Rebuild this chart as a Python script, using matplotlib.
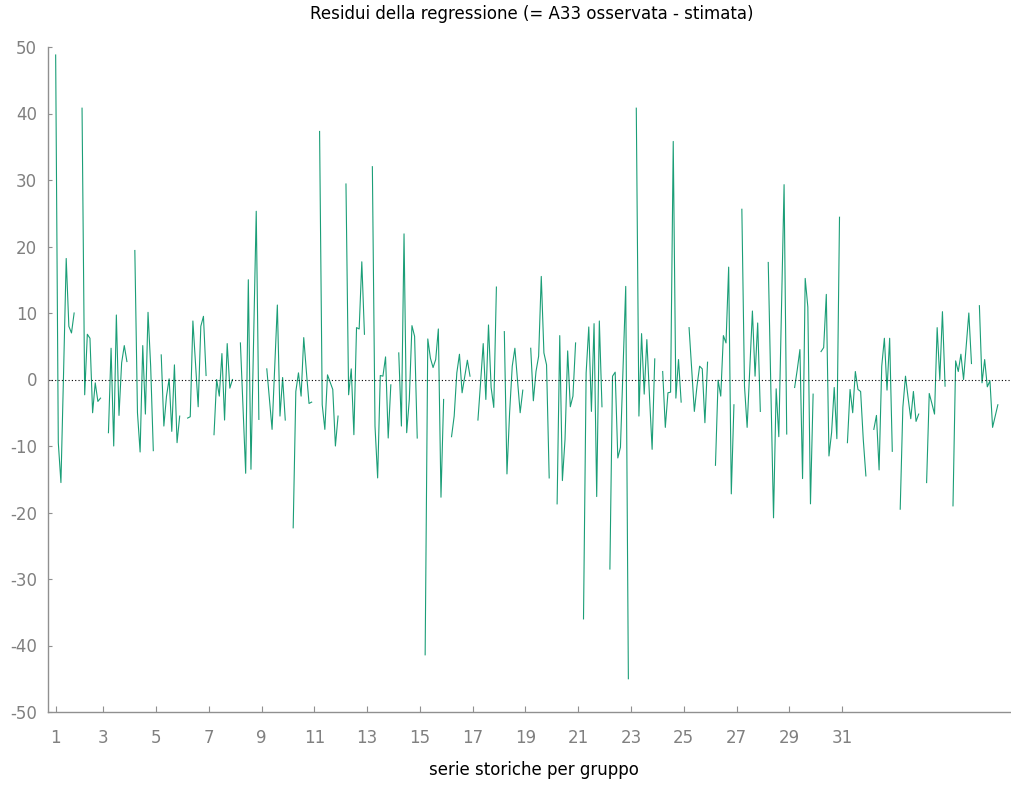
import numpy as np
import matplotlib
matplotlib.use("Agg")
import matplotlib.pyplot as plt

plt.rcParams["axes.unicode_minus"] = False

resid_g01_09 = [
    48.8, -9.5, -15.5, 1.0, 18.2, 8.0, 7.0, 10.0,
    40.8, -2.3, 6.8, 6.2, -5.0, -0.5, -3.3, -2.8,
    -8.0, 4.7, -10.0, 9.7, -5.4, 2.5, 5.1, 2.7,
    19.4, -5.0, -10.9, 5.1, -5.2, 10.1, 2.0, -10.7,
    3.7, -7.0, -2.5, 0.1, -7.8, 2.2, -9.5, -5.5,
    -5.8, -5.6, 8.8, 2.4, -4.1, 8.0, 9.5, 0.6,
    -8.3, 0.0, -2.5, 3.9, -6.1, 5.4, -1.3, 0.0,
    5.5, -4.5, -14.1, 15.0, -13.5, 5.5, 25.3, -6.0,
    1.6, -3.0, -7.5, 2.0, 11.2, -5.5, 0.3, -6.1,
]
resid_g10_18 = [
    -22.3, -1.8, 1.0, -2.5, 6.3, 1.2, -3.6, -3.4,
    37.3, -3.8, -7.5, 0.7, -0.4, -1.5, -10.0, -5.5,
    29.4, -2.3, 1.6, -8.3, 7.8, 7.6, 17.7, 6.8,
    32.0, -7.0, -14.8, 0.6, 0.5, 3.4, -8.8, -0.8,
    4.0, -7.0, 21.9, -8.0, -3.0, 8.1, 6.5, -8.8,
    -41.4, 6.1, 3.2, 1.8, 3.0, 7.6, -17.7, -3.0,
    -8.6, -5.5, 1.0, 3.8, -2.0, 0.5, 2.9, 0.5,
    -6.1, -0.5, 5.4, -3.0, 8.2, -1.2, -4.2, 13.9,
    7.2, -14.2, -5.0, 2.0, 4.7, -0.2, -5.0, -1.6,
]
resid_g19_27 = [
    4.7, -3.2, 1.2, 3.5, 15.5, 4.0, 2.2, -14.8,
    -18.7, 6.6, -15.2, -9.0, 4.3, -4.1, -2.5, 5.5,
    -36.0, 1.0, 7.9, -4.8, 8.4, -17.6, 8.8, -4.1,
    -28.5, 0.5, 1.1, -11.8, -10.2, 2.0, 14.0, -45.0,
    40.8, -5.5, 6.9, -2.2, 6.0, -2.5, -10.5, 3.1,
    1.2, -7.2, -2.0, -1.9, 35.8, -2.8, 3.0, -3.4,
    7.8, 1.5, -4.8, -1.0, 2.0, 1.6, -6.5, 2.6,
    -12.9, -0.1, -2.5, 6.6, 5.5, 16.9, -17.2, -3.8,
    25.6, -1.0, -7.2, 1.5, 10.3, 0.5, 8.5, -4.8,
]
resid_g28_36 = [
    17.6, -1.5, -20.8, -1.4, -8.6, 10.3, 29.3, -8.2,
    -1.2, 1.5, 4.5, -14.9, 15.2, 10.9, -18.7, -2.2,
    4.2, 4.8, 12.8, -11.5, -8.0, -1.2, -8.9, 24.4,
    -9.5, -1.5, -5.0, 1.2, -1.5, -1.8, -9.0, -14.5,
    -7.5, -5.4, -13.6, 2.0, 6.2, -1.6, 6.2, -10.8,
    -19.5, -4.2, 0.5, -2.8, -5.9, -1.8, -6.3, -5.2,
    -15.5, -2.1, -3.6, -5.2, 7.8, 0.0, 10.2, -1.0,
    -19.0, 2.8, 1.2, 3.8, 0.0, 5.0, 10.0, 2.4,
    11.1, -0.5, 3.0, -1.1, -0.2, -7.2, -5.5, -3.8,
]

obs_per_group = 8
period = 10          # each unit spans 10 periods, first 2 missing
tick_labels = [str(k) for k in range(1, 32, 2)]

resid = np.array(resid_g01_09 + resid_g10_18 + resid_g19_27 + resid_g28_36)
n_groups = len(resid) // obs_per_group

# build x index with NaN breaks between groups
xs, ys = [], []
for g in range(n_groups):
    for j in range(obs_per_group):
        xs.append(g * period + j)
        ys.append(resid[g * obs_per_group + j])
    xs.append(g * period + obs_per_group)
    ys.append(np.nan)
xs = np.array(xs, dtype=float)
ys = np.array(ys, dtype=float)

tick_pos = [0] + [period * (int(k) - 1) - 2 for k in tick_labels[1:]]

grey = "#808080"
fig = plt.figure(figsize=(10.12, 7.85), dpi=100)
ax = fig.add_axes([48 / 1012, 1 - 712 / 785, 962 / 1012, 665 / 785])

ax.plot(xs, ys, color="#1b9e77", lw=0.8)
ax.axhline(0, color="black", lw=0.8, ls=(0, (1, 2)))

ax.set_xlim(-2.9, 361.6)
ax.set_ylim(-50, 50)
ax.set_yticks(np.arange(-50, 51, 10))
ax.set_xticks(tick_pos)
ax.set_xticklabels(tick_labels)

for side in ["top", "right"]:
    ax.spines[side].set_visible(False)
for side in ["left", "bottom"]:
    ax.spines[side].set_color("#909090")
    ax.spines[side].set_linewidth(1.0)

ax.tick_params(axis="both", direction="in", color="#909090",
               labelcolor=grey, labelsize=12)
ax.tick_params(axis="y", pad=8, length=3)
ax.tick_params(axis="x", pad=12.5, length=4)

fig.text(532 / 1012, 1 - 14 / 785, "Residui della regressione (= A33 osservata - stimata)",
         ha="center", va="center", fontsize=12, color="black")
fig.text(534 / 1012, 1 - 770 / 785, "serie storiche per gruppo",
         ha="center", va="center", fontsize=12, color="black")

fig.savefig("out.png", dpi=100)
